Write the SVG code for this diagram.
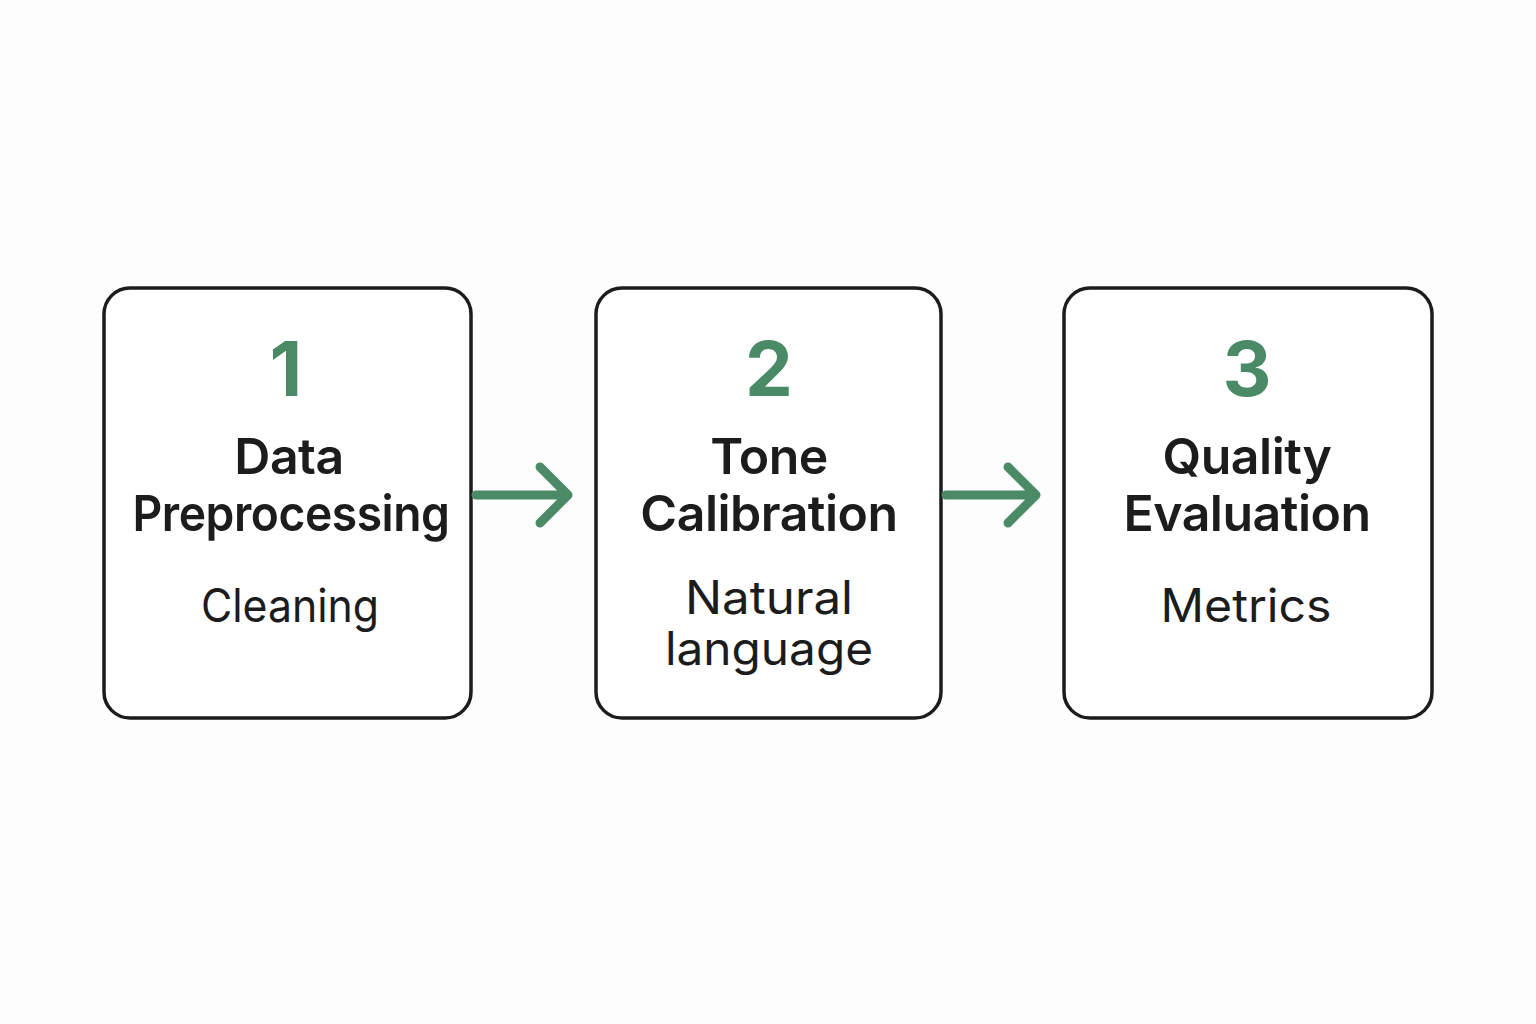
<svg xmlns="http://www.w3.org/2000/svg" width="1536" height="1024" viewBox="0 0 1536 1024">
<style>
.box{fill:#ffffff;stroke:#1c1c1c;stroke-width:3.5}
.num{font-family:Inter,"Noto Sans",sans-serif;font-weight:700;font-size:76px;fill:#4a8a66;text-anchor:middle}
.title{font-family:Inter,"Noto Sans",sans-serif;font-weight:600;font-size:50px;fill:#1c1c1c;text-anchor:middle;letter-spacing:-0.5px}
.sub{font-family:Inter,"Noto Sans",sans-serif;font-weight:400;font-size:46px;fill:#1c1c1c;text-anchor:middle}
.arr{fill:none;stroke:#4a8a66;stroke-width:9;stroke-linecap:round;stroke-linejoin:round}
</style>
<rect width="1536" height="1024" fill="#fdfdfd"/>
<g id="node1">
<rect class="box" x="104" y="288" width="367" height="430" rx="26"/>
<text class="num" x="286" y="396">1</text>
<text class="title" x="289" y="474">Data</text>
<text class="title" x="291" y="531" textLength="317" lengthAdjust="spacingAndGlyphs">Preprocessing</text>
<text class="sub" x="290" y="622" textLength="178" lengthAdjust="spacingAndGlyphs">Cleaning</text>
</g>
<g id="node2">
<rect class="box" x="596" y="288" width="345" height="430" rx="26"/>
<text class="num" x="769" y="396">2</text>
<text class="title" x="769" y="474">Tone</text>
<text class="title" x="769" y="531">Calibration</text>
<text class="sub" x="769" y="614" textLength="168" lengthAdjust="spacingAndGlyphs">Natural</text>
<text class="sub" x="769" y="665" textLength="208" lengthAdjust="spacingAndGlyphs">language</text>
</g>
<g id="node3">
<rect class="box" x="1064" y="288" width="368" height="430" rx="26"/>
<text class="num" x="1247" y="396">3</text>
<text class="title" x="1247" y="474">Quality</text>
<text class="title" x="1247" y="531">Evaluation</text>
<text class="sub" x="1246" y="622" textLength="171" lengthAdjust="spacingAndGlyphs">Metrics</text>
</g>
<g id="connectors">
<path class="arr" d="M476 495 H568 M540 467 L568 495 L540 523"/>
<path class="arr" d="M946 495 H1036 M1008 467 L1036 495 L1008 523"/>
</g>
</svg>
